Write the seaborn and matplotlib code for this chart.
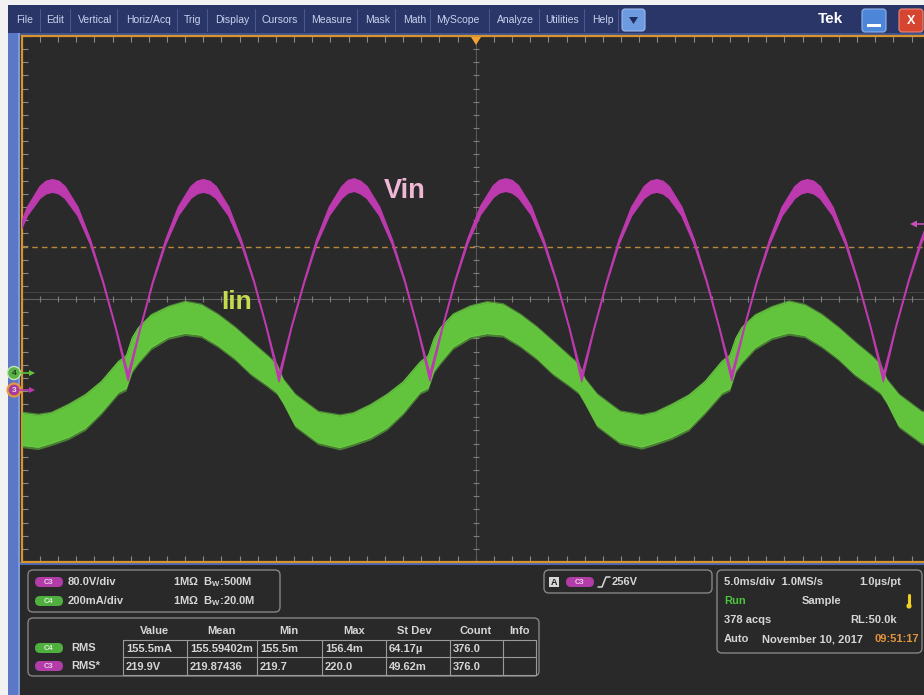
import matplotlib
matplotlib.use("Agg")
import matplotlib.pyplot as plt
import numpy as np
import pandas as pd
import seaborn as sns
from matplotlib.patches import FancyBboxPatch, Rectangle, Circle, Polygon

# ---------------- acquisition: CH3 (Vin) ----------------
vin_t_ms = [
    -25.38, -24.68, -23.99, -23.65, -23.30, -22.95, -22.61, -21.91, -21.22, -20.53, -19.83,
    -19.14, -18.45, -17.76, -17.06, -16.37, -15.68, -15.33, -14.99, -14.64, -14.29, -13.60, -12.91, -12.21, -11.52,
    -10.83, -10.14, -9.44, -8.75, -8.06, -7.37, -7.02, -6.68, -6.33, -5.98, -5.29, -4.60, -3.90, -3.21,
    -2.52, -1.82, -1.13, -0.43, 0.27, 0.97, 1.31, 1.66, 2.01, 2.36, 3.06, 3.75, 4.45, 5.15,
    5.84, 6.53, 7.22, 7.90, 8.59, 9.28, 9.63, 9.97, 10.32, 10.66, 11.35, 12.03, 12.72, 13.41,
    14.10, 14.80, 15.49, 16.19, 16.88, 17.58, 17.93, 18.28, 18.62, 18.97, 19.67, 20.36, 21.06, 21.75,
    22.45, 23.14, 23.84, 24.53, 25.22, 25.57, 25.92]
vin_v = [
    262, 299, 322, 328, 330, 328, 322, 299, 262, 214, 158,
    97, 158, 214, 262, 299, 322, 328, 330, 328, 322, 299, 262, 214, 158,
    96, 158, 213, 262, 299, 322, 329, 331, 328, 322, 299, 262, 214, 158,
    97, 158, 214, 263, 300, 323, 329, 331, 329, 323, 300, 262, 214, 158,
    96, 157, 213, 262, 299, 322, 328, 330, 328, 322, 299, 262, 214, 158,
    97, 158, 214, 262, 299, 322, 328, 330, 328, 322, 299, 262, 213, 158,
    96, 158, 214, 262, 299, 322, 328]
# half width of the noise band around the trace (V)
vin_band_v = [
    2.5, 5, 7, 7.5, 7.5, 7.5, 7, 5, 2.5, 1.2, 0.8,
    4, 0.8, 1.2, 2.5, 5, 7, 7.5, 7.5, 7.5, 7, 5, 2.5, 1.2, 0.8,
    4, 0.8, 1.2, 2.5, 5, 7, 7.5, 7.5, 7.5, 7, 5, 2.5, 1.2, 0.8,
    4, 0.8, 1.2, 2.5, 5, 7, 7.5, 7.5, 7.5, 7, 5, 2.5, 1.2, 0.8,
    4, 0.8, 1.2, 2.5, 5, 7, 7.5, 7.5, 7.5, 7, 5, 2.5, 1.2, 0.8,
    4, 0.8, 1.2, 2.5, 5, 7, 7.5, 7.5, 7.5, 7, 5, 2.5, 1.2, 0.8,
    4, 0.8, 1.2, 2.5, 5, 7, 7.5]

# ---------------- acquisition: CH4 (Iin), envelope of the noisy trace ----------------
iin_t_ms = [
    -24.98, -24.10, -23.38, -22.44, -21.51, -20.63, -19.69, -19.25, -18.92, -18.59,
    -17.87, -16.94, -16.00, -15.12, -14.18, -13.25, -12.37, -11.43, -10.94, -10.60, -9.94, -8.68,
    -7.48, -6.76, -5.82, -4.89, -4.01, -3.07, -2.63, -2.30, -1.97,
    -1.25, -0.32, 0.62, 1.50, 2.44, 3.37, 4.25, 5.19, 5.68, 6.02, 6.68, 7.94,
    9.14, 9.86, 10.80, 11.73, 12.61, 13.55, 13.99, 14.32, 14.65,
    15.37, 16.30, 17.24, 18.12, 19.06, 19.99, 20.87, 21.81, 22.30, 22.64, 23.30, 24.56, 25.60]
iin_hi_ma = [
    -122, -128, -122, -97, -67, -27, 34, 52, 107, 137,
    176, 201, 216, 207, 176, 137, 94, 49, 24, -21, -67, -119,
    -130, -123, -98, -66, -28, 33, 51, 105, 136,
    178, 202, 215, 208, 177, 138, 95, 48, 25, -20, -66, -118,
    -129, -121, -96, -68, -27, 35, 53, 106, 138,
    175, 200, 217, 206, 176, 136, 93, 50, 24, -22, -67, -119, -127]
iin_lo_ma = [
    -219, -225, -213, -195, -167, -119, -58, -46, 9, 34,
    79, 110, 122, 116, 85, 46, 0, -37, -58, -88, -158, -210,
    -226, -214, -196, -166, -120, -57, -45, 8, 33,
    80, 111, 121, 117, 86, 47, 1, -36, -57, -89, -157, -209,
    -224, -212, -194, -168, -118, -59, -47, 10, 35,
    78, 109, 123, 115, 84, 45, -1, -38, -58, -87, -159, -210, -224]

# ---------------- instrument settings / readouts ----------------
CH3_SCALE_V = 80.0
CH3_OFFSET_V = 82.0
CH3_POS_DIV = -1.38
CH4_SCALE_MA = 200.0
CH4_POS_DIV = -1.13
TRIG_LEVEL_V = 256
TIME_PER_DIV_MS = 5.0

menu_items = ["File", "Edit", "Vertical", "Horiz/Acq", "Trig", "Display", "Cursors",
              "Measure", "Mask", "Math", "MyScope", "Analyze", "Utilities", "Help"]
menu_x = [25, 55, 95, 149, 193, 232, 280, 332, 378, 415, 458, 515, 562, 603]
menu_sep_x = [40, 70, 117, 177, 207, 255, 304, 357, 395, 430, 489, 539, 584, 618]

meas_columns = ["Value", "Mean", "Min", "Max", "St Dev", "Count", "Info"]
meas_rms_iin = ["155.5mA", "155.59402m", "155.5m", "156.4m", "64.17\u00b5", "376.0", ""]
meas_rms_vin = ["219.9V", "219.87436", "219.7", "220.0", "49.62m", "376.0", ""]

# ---------------- colours ----------------
MAGENTA = "#bc3aae"
GREEN = "#62c43c"
ORANGE = "#d8942e"
PANEL = "#292929"
SCREEN = "#2a2a2a"
TXT = "#d6d6d6"

sns.set_theme(style="dark")
plt.rcParams["font.family"] = ["Liberation Sans", "DejaVu Sans"]

W, H = 924, 695
fig = plt.figure(figsize=(W / 100, H / 100), dpi=100, facecolor=PANEL)

# pixel-space background layer
bg = fig.add_axes([0, 0, 1, 1], zorder=0)
bg.set_xlim(0, W)
bg.set_ylim(H, 0)
bg.axis("off")
bg.add_patch(Rectangle((0, 0), W, H, fc=PANEL, ec="none"))
bg.add_patch(Rectangle((0, 0), 8, H, fc="#f2f2f2", ec="none"))
bg.add_patch(Rectangle((0, 0), W, 5, fc="#f2f2f2", ec="none"))
bg.add_patch(Rectangle((8, 5), W - 8, 28, fc="#2a3668", ec="none"))
bg.add_patch(Rectangle((8, 33), W - 8, 3, fc="#3f5290", ec="none"))
bg.add_patch(Rectangle((8, 33), 12, H - 33, fc="#5a78c6", ec="none"))
bg.add_patch(Rectangle((18, 33), 2, H - 33, fc="#7e98d8", ec="none"))
bg.add_patch(Rectangle((20, 562), W - 20, 3, fc="#4a68b8", ec="none"))

# menu bar
for sx in menu_sep_x:
    bg.plot([sx, sx], [9, 31], color="#4a5890", lw=0.8)
for name, mx in zip(menu_items, menu_x):
    bg.text(mx, 20, name, color="#c9d2ee", fontsize=7.5, ha="center", va="center")
bg.add_patch(FancyBboxPatch((622, 9), 23, 22, boxstyle="round,pad=0,rounding_size=3",
                            fc="#6e9ae0", ec="#9ab8ee", lw=0.8))
bg.add_patch(Polygon([[629, 17], [638, 17], [633.5, 24]], closed=True, fc="#1f2c5e", ec="none"))
bg.text(831, 19, "Tek", color="white", fontsize=11, fontweight="bold", ha="center", va="center")
bg.add_patch(FancyBboxPatch((862, 9), 24, 23, boxstyle="round,pad=0,rounding_size=3",
                            fc="#4d86d8", ec="#8fb4ec", lw=0.8))
bg.add_patch(Rectangle((867, 24), 14, 3, fc="white", ec="none"))
bg.add_patch(FancyBboxPatch((899, 9), 24, 23, boxstyle="round,pad=0,rounding_size=3",
                            fc="#d6452f", ec="#ee8a78", lw=0.8))
bg.text(911, 20.5, "X", color="white", fontsize=9, fontweight="bold", ha="center", va="center")

# ---------------- scope screen ----------------
x0, x1, y0, y1 = 21.7, 929.7, 36, 562
ax = fig.add_axes([x0 / W, 1 - y1 / H, (x1 - x0) / W, (y1 - y0) / H], zorder=1)
ax.set_facecolor(SCREEN)
half_span = 5 * TIME_PER_DIV_MS
for side in ["left", "top", "bottom"]:
    ax.spines[side].set_visible(True)
    ax.spines[side].set_color(ORANGE)
    ax.spines[side].set_linewidth(1.6)
ax.spines["right"].set_visible(False)
ax.set_xticks(np.arange(-25, 25.1, 5))
ax.set_xticks(np.arange(-25, 25.1, 1), minor=True)
ax.set_yticks(np.arange(-4, 4.01, 1))
ax.set_yticks(np.arange(-4, 4.01, 0.2), minor=True)
ax.tick_params(which="both", direction="in", length=4, width=0.8, color="#8a8a8a",
               top=True, bottom=True, left=True, right=False,
               labelbottom=False, labelleft=False)
ax.grid(False)

# centre graticule with minor ticks
ax.axhline(0, color="#646464", lw=0.7, zorder=1)
ax.axvline(0, color="#5c5c5c", lw=0.7, zorder=1)
ax.axhline(0.1, color="#4a4a4a", lw=0.6, zorder=1)
ax.plot(np.arange(-25, 25.1, 1), np.zeros(51), ls="none", marker="|", ms=4,
        mew=0.8, color="#7c7c7c", zorder=1)
ax.plot(np.zeros(41), np.arange(-4, 4.01, 0.2), ls="none", marker="_", ms=4,
        mew=0.8, color="#7c7c7c", zorder=1)

# trigger level
trig_div = (TRIG_LEVEL_V - CH3_OFFSET_V) / CH3_SCALE_V + CH3_POS_DIV
ax.axhline(trig_div, color="#b8893c", lw=1.0, ls=(0, (4, 3)), zorder=2)

# Iin (CH4)
iin = pd.DataFrame({"t": iin_t_ms, "hi": iin_hi_ma, "lo": iin_lo_ma})
iin["hi_div"] = iin["hi"] / CH4_SCALE_MA + CH4_POS_DIV
iin["lo_div"] = iin["lo"] / CH4_SCALE_MA + CH4_POS_DIV
ax.fill_between(iin["t"], iin["lo_div"] - 0.035, iin["hi_div"] + 0.035,
                color=GREEN, alpha=0.55, lw=0, zorder=3)
ax.fill_between(iin["t"], iin["lo_div"], iin["hi_div"], color=GREEN, lw=0, zorder=3)
sns.lineplot(data=iin, x="t", y="hi_div", ax=ax, color="#6ccc44", lw=0.7, zorder=3)
sns.lineplot(data=iin, x="t", y="lo_div", ax=ax, color="#6ccc44", lw=0.7, zorder=3)

# Vin (CH3)
vin = pd.DataFrame({"t": vin_t_ms, "v": vin_v, "band": vin_band_v})
vin["mid"] = (vin["v"] - CH3_OFFSET_V) / CH3_SCALE_V + CH3_POS_DIV
vin["hi_div"] = vin["mid"] + vin["band"] / CH3_SCALE_V
vin["lo_div"] = vin["mid"] - vin["band"] / CH3_SCALE_V
ax.fill_between(vin["t"], vin["lo_div"], vin["hi_div"], color=MAGENTA, lw=0, zorder=4)
sns.lineplot(data=vin, x="t", y="hi_div", ax=ax, color=MAGENTA, lw=1.15, zorder=4)
sns.lineplot(data=vin, x="t", y="lo_div", ax=ax, color=MAGENTA, lw=1.15, zorder=4)
ax.set_xlabel("")
ax.set_ylabel("")
ax.set_xlim(-half_span, half_span)
ax.set_ylim(-4, 4)

# ---------------- foreground pixel layer ----------------
fg = fig.add_axes([0, 0, 1, 1], zorder=3)
fg.set_xlim(0, W)
fg.set_ylim(H, 0)
fg.axis("off")
fg.patch.set_alpha(0)

fg.text(405, 191, "Vin", color="#f0b6d6", fontsize=19.5, fontweight="bold",
        ha="center", va="center")
fg.text(237, 302, "Iin", color="#c4dc4e", fontsize=19, fontweight="bold",
        ha="center", va="center")

# channel reference markers
fg.plot([20, 30], [373, 373], color=GREEN, lw=1.2)
fg.add_patch(Polygon([[29, 370], [35, 373], [29, 376]], closed=True, fc=GREEN, ec="none"))
fg.add_patch(Circle((14, 373), 6.5, fc="#5ab348", ec="#c4e4b4", lw=1))
fg.text(14, 373.5, "4", color="#1f3d1a", fontsize=6, fontweight="bold", ha="center", va="center")
fg.plot([20, 30], [390, 390], color=MAGENTA, lw=1.2)
fg.add_patch(Polygon([[29, 387], [35, 390], [29, 393]], closed=True, fc=MAGENTA, ec="none"))
fg.add_patch(Circle((14, 390), 6.5, fc="#a43c9c", ec="#e89a3a", lw=1.5))
fg.text(14, 390.5, "3", color="#f4d8f0", fontsize=6, fontweight="bold", ha="center", va="center")

# trigger position and level markers
fg.add_patch(Polygon([[471, 37], [481, 37], [476, 45]], closed=True, fc="#f0a232", ec="none"))
fg.plot([915, 924], [224, 224], color="#c450ba", lw=1.2)
fg.add_patch(Polygon([[910, 224], [917, 220.5], [917, 227.5]], closed=True, fc="#c450ba", ec="none"))

# ---------------- readout panel ----------------
def rbox(x, y, w, h):
    fg.add_patch(FancyBboxPatch((x, y), w, h, boxstyle="round,pad=0,rounding_size=5",
                                fc="none", ec="#858585", lw=1.0))


def pill(x, y, label, fc, tc):
    fg.add_patch(FancyBboxPatch((x, y - 5), 28, 10, boxstyle="round,pad=0,rounding_size=5",
                                fc=fc, ec="none"))
    fg.text(x + 14, y + 0.3, label, color=tc, fontsize=5.5, fontweight="bold",
            ha="center", va="center")


def t(x, y, s, color=TXT, ha="left", size=8):
    fg.text(x, y, s, color=color, fontsize=size, fontweight="bold", ha=ha, va="center")


C3_FC, C3_TC = "#b23ca8", "#ecc8ea"
C4_FC, C4_TC = "#4fb040", "#d6f0cc"

rbox(28, 570, 252, 42)
pill(35, 582, "C3", C3_FC, C3_TC)
t(68, 582, "80.0V/div")
t(173, 582, "1M\u03a9  B$_\\mathregular{W}$:500M")
pill(35, 601, "C4", C4_FC, C4_TC)
t(68, 601, "200mA/div")
t(173, 601, "1M\u03a9  B$_\\mathregular{W}$:20.0M")

# measurement table
rbox(28, 618, 511, 58)
col_edges = [123, 187, 257, 322, 386, 450, 503, 536]
col_centres = [154, 222, 289, 354, 414, 476, 519]
for name, cx in zip(meas_columns, col_centres):
    t(cx, 631, name, ha="center")
for yy in [640, 657, 675]:
    fg.plot([col_edges[0], col_edges[-1]], [yy, yy], color="#9a9a9a", lw=0.8)
for xx in col_edges:
    fg.plot([xx, xx], [640, 675], color="#9a9a9a", lw=0.8)
pill(35, 648, "C4", C4_FC, C4_TC)
t(71, 648, "RMS")
pill(35, 666, "C3", C3_FC, C3_TC)
t(71, 666, "RMS*")
for i, (a, b) in enumerate(zip(meas_rms_iin, meas_rms_vin)):
    t(col_edges[i] + 3, 648.5, a)
    t(col_edges[i] + 3, 666.5, b)

# trigger readout
rbox(544, 570, 168, 23)
fg.add_patch(Rectangle((549, 577), 10, 10, fc="#d8d8d8", ec="none"))
fg.text(554, 582.5, "A", color="#222222", fontsize=6.5, fontweight="bold", ha="center", va="center")
pill(566, 582, "C3", C3_FC, C3_TC)
fg.plot([598, 602, 606, 610], [587, 587, 577, 577], color=TXT, lw=1.1)
t(612, 582, f"{TRIG_LEVEL_V}V")

# timebase readout
rbox(717, 570, 205, 83)
t(724, 582, f"{TIME_PER_DIV_MS:.1f}ms/div  1.0MS/s")
t(901, 582, "1.0\u00b5s/pt", ha="right")
t(724, 601, "Run", color="#4cc43e")
t(802, 601, "Sample")
fg.plot([909, 909], [595, 604], color="#f0d020", lw=2.2, solid_capstyle="round")
fg.add_patch(Circle((909, 606), 2.6, fc="#f0d020", ec="none"))
t(724, 620, "378 acqs")
t(897, 620, "RL:50.0k", ha="right")
t(724, 639, "Auto")
t(762, 639, "November 10, 2017")
t(919, 639, "09:51:17", color="#e4943c", ha="right")

fig.savefig("out.png", dpi=100, facecolor=fig.get_facecolor())
